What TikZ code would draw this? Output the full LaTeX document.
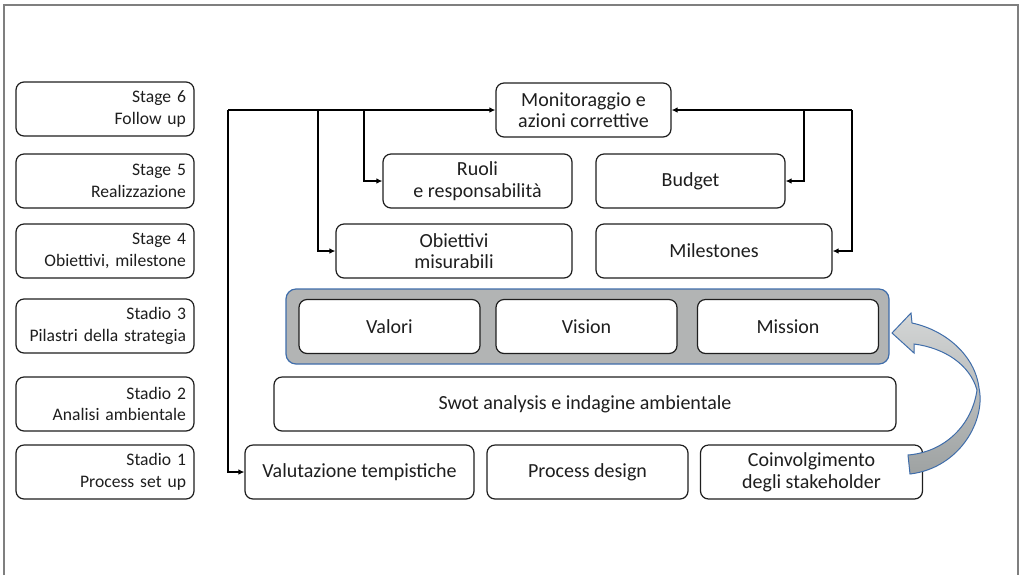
\documentclass[tikz,border=0pt]{standalone}
\usepackage{fontspec}
\setmainfont{Carlito}
\usetikzlibrary{arrows.meta,positioning}
\definecolor{ink}{HTML}{1E1E1E}
\definecolor{frame}{HTML}{7F7F7F}
\definecolor{band}{HTML}{B2B4B4}
\definecolor{edge}{HTML}{3F6DAA}
\definecolor{lite}{HTML}{D4D6D6}
\definecolor{dark}{HTML}{9EA2A2}
\tikzset{blk/.style={draw=ink,fill=white,rounded corners=4pt,line width=.6pt,align=center,
  minimum height=27pt,inner sep=2pt,font=\fontsize{10}{10.8}\selectfont,text=ink},
  stagebox/.style={blk,align=right,text width=81pt,inner xsep=4pt,font=\fontsize{8.8}{10.8}\selectfont},
  link/.style={-{Latex[length=3pt,width=2.8pt]},line width=.75pt,draw=black}}

\begin{document}
\begin{tikzpicture}[x=.5pt,y=-.5pt]
\useasboundingbox (0,0) rectangle (1024,575);
\draw[frame,line width=1pt] (4,575)--(4,5)--(1018,5)--(1018,575);
% stages on the left
\node[stagebox] (s6) at (105,109) {Stage 6\\Follow up};
\node[stagebox] (s5) at (105,181) {Stage 5\\Realizzazione};
\node[stagebox] (s4) at (105,251) {Stage 4\\Obiettivi, milestone};
\node[stagebox] (s3) at (105,326) {Stadio 3\\Pilastri della strategia};
\node[stagebox] (s2) at (105,404) {Stadio 2\\Analisi ambientale};
\node[stagebox] (s1) at (105,472) {Stadio 1\\Process set up};
% blocks
\node[blk,minimum width=87.5pt] (mon) at (583.5,110) {Monitoraggio e\\azioni correttive};
\node[blk,minimum width=94.5pt] (ruo) at (477.5,181) {Ruoli\\e responsabilità};
\node[blk,minimum width=94.5pt] (bud) at (690.5,181) {Budget};
\node[blk,minimum width=118pt] (obi) at (454,251) {Obiettivi\\misurabili};
\node[blk,minimum width=118pt] (mil) at (714,251) {Milestones};
\node[draw=edge,fill=band,rounded corners=5pt,line width=.6pt,minimum width=301.5pt,
  minimum height=37.5pt] (pil) at (587.5,326.5) {};
\node[blk,minimum width=90.5pt] (val) at (389.5,326.5) {Valori};
\node[blk,minimum width=90.5pt] (vis) at (586.5,326.5) {Vision};
\node[blk,minimum width=90.5pt] (mis) at (788,326.5) {Mission};
\node[blk,minimum width=311pt] (swot) at (585,404) {Swot analysis e indagine ambientale};
\node[blk,minimum width=114.5pt] (tem) at (359.5,472) {Valutazione tempistiche};
\node[blk,minimum width=100.5pt] (pro) at (587.5,472) {Process design};
\node[blk,minimum width=111pt] (coi) at (811.5,472) {Coinvolgimento\\degli stakeholder};
% feedback lines
\coordinate (lft) at (228,110);
\coordinate (b1) at (318,110);
\coordinate (b2) at (364,110);
\coordinate (rgt) at (852,110);
\coordinate (b3) at (804,110);
\draw[link] (lft) |- (tem.west);
\draw[link] (lft) -- (mon.west);
\draw[link] (b1) |- (obi.west);
\draw[link] (b2) |- (ruo.west);
\draw[link] (rgt) -- (mon.east);
\draw[link] (rgt) |- (mil.east);
\draw[link] (b3) |- (bud.east);
% curved block arrow
\draw[edge,line width=.5pt,top color=lite,bottom color=dark]
  (892,333) -- (911,313) -- (912,323) .. controls (945,330) and (975,355) .. (979,388)
  .. controls (986,420) and (960,468) .. (910,474) -- (908,455)
  .. controls (945,452) and (972,425) .. (977,390)
  .. controls (970,365) and (945,348) .. (914,344) -- (914,353) -- cycle;
\end{tikzpicture}
\end{document}
